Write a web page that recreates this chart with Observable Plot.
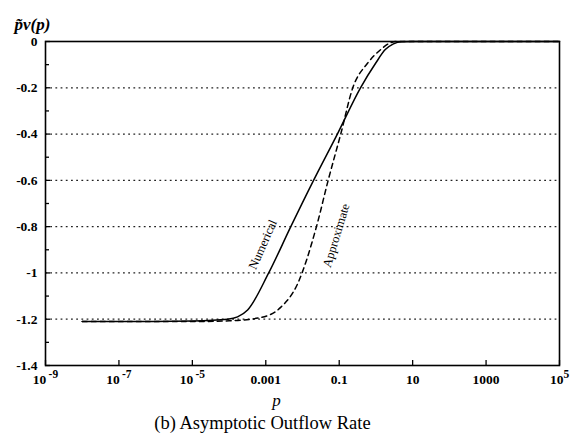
<!DOCTYPE html>
<html><head><meta charset="utf-8">
<script src="https://cdn.jsdelivr.net/npm/d3@7"></script>
<script src="https://cdn.jsdelivr.net/npm/@observablehq/plot@0.6"></script>
<style>
body{margin:0;background:#fff;}
#c{width:573px;position:relative;}
#c svg{display:block;}
.cap{font-family:"Liberation Serif",serif;font-size:18.5px;line-height:26px;width:525px;text-align:center;color:#000;}
</style></head>
<body><div id="c"></div>
<script>
// Numerical solution (solid)
const numericalP = [1e-8, 1e-6, 1e-5, 9.1e-5, 1.7e-4, 3.2e-4, 1.2e-3, 4.8e-3, 0.02, 0.089, 0.38, 0.98, 1.8, 3.0, 5.0, 10, 1e5];
const numericalV = [-1.21, -1.21, -1.208, -1.2, -1.19, -1.16, -1.0, -0.8, -0.6, -0.4, -0.2, -0.094, -0.035, -0.01, -0.001, 0, 0];
// Approximate (dashed)
const approxP = [1e-8, 1e-6, 1e-5, 1e-4, 7.2e-4, 2.5e-3, 7.4e-3, 0.024, 0.05, 0.11, 0.234, 0.59, 1.35, 2.3, 3.5, 10, 1e5];
const approxV = [-1.21, -1.21, -1.21, -1.207, -1.193, -1.15, -1.046, -0.8, -0.6, -0.4, -0.2, -0.094, -0.035, -0.008, 0, 0, 0];
// ticks
const xTicks = [1e-9, 1e-7, 1e-5, 1e-3, 1e-1, 10, 1000, 1e5];
const xTickLabels = ["10^-9", "10^-7", "10^-5", "0.001", "0.1", "10", "1000", "10^5"];
const yTicks = [0, -0.2, -0.4, -0.6, -0.8, -1, -1.2, -1.4];
const yMinor = [-0.1, -0.3, -0.5, -0.7, -0.9, -1.1, -1.3];
const gridY = [-0.2, -0.4, -0.6, -0.8, -1, -1.2];
// curve annotations
const labelText = ["Numerical", "Approximate"];
const labelP = [8.3e-4, 0.083];
const labelV = [-0.877, -0.838];
const labelRotate = [-66, -73];

const numerical = numericalP.map((p, i) => ({p, v: numericalV[i]}));
const approx = approxP.map((p, i) => ({p, v: approxV[i]}));
const labels = labelText.map((t, i) => ({t, p: labelP[i], v: labelV[i], r: labelRotate[i]}));

const serif = "'Liberation Serif', 'Times New Roman', serif";

const chart = Plot.plot({
  width: 573, height: 410,
  marginLeft: 45, marginRight: 14, marginTop: 41, marginBottom: 45,
  style: {fontFamily: serif, fontSize: "12px", background: "white", color: "black"},
  x: {type: "log", domain: [1e-9, 1e5]},
  y: {domain: [-1.4, 0]},
  marks: [
    Plot.ruleY(gridY, {stroke: "#222", strokeWidth: 1.3, strokeDasharray: "1.8,3.4"}),
    Plot.line(numerical, {x: "p", y: "v", stroke: "black", strokeWidth: 1.5, curve: "monotone-x"}),
    Plot.line(approx, {x: "p", y: "v", stroke: "black", strokeWidth: 1.5, strokeDasharray: "5,4", curve: "monotone-x"}),
    Plot.frame({stroke: "black", strokeWidth: 1.6}),
    Plot.axisY(yMinor, {tickSize: -4, tickFormat: () => "", label: null, strokeWidth: 1.3}),
    Plot.axisY(yTicks, {tickSize: -5, tickFormat: () => "", label: null, strokeWidth: 1.3}),
    Plot.axisY(yTicks, {tickSize: 0, tickPadding: 8, tickFormat: d => String(d), label: null, fontWeight: "bold", fontSize: 13.5}),
    Plot.axisX(xTicks, {tickSize: -5, tickFormat: () => "", label: null, strokeWidth: 1.3}),
    Plot.axisX(xTicks, {tickSize: 0, tickPadding: 9, tickFormat: d => xTickLabels[xTicks.indexOf(d)], label: null, fontWeight: "bold", fontSize: 13.5}),
    Plot.text(labels, {x: "p", y: "v", text: "t", rotate: "r", fontSize: 12.5, fill: "black"}),
    Plot.text(["p"], {frameAnchor: "bottom", dx: -26, dy: 40, fontStyle: "italic", fontSize: 17, fill: "black"}),
    Plot.text(["p\u0303v(p)"], {frameAnchor: "top-left", dx: -31, dy: -24, fontStyle: "italic", fontWeight: "bold", fontSize: 17, fill: "black"})
  ]
});
// render "10^-9" style labels with real superscripts
chart.querySelectorAll("text").forEach(t => {
  const s = t.textContent;
  const m = /^10\^(-?\d+)$/.exec(s);
  if (m) {
    t.textContent = "";
    const base = document.createElementNS("http://www.w3.org/2000/svg", "tspan");
    base.textContent = "10";
    const sup = document.createElementNS("http://www.w3.org/2000/svg", "tspan");
    sup.textContent = m[1].replace("-", "\u2009-");
    sup.setAttribute("dy", "-0.55em");
    sup.setAttribute("font-size", "0.85em");
    t.appendChild(base);
    t.appendChild(sup);
  }
});
const c = document.getElementById("c");
c.appendChild(chart);
const cap = document.createElement("div");
cap.className = "cap";
cap.textContent = "(b) Asymptotic Outflow Rate";
c.appendChild(cap);
</script>
</body></html>
